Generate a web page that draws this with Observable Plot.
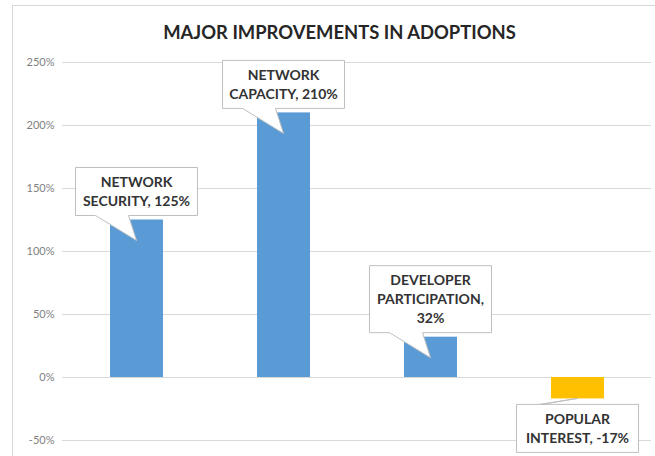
<!DOCTYPE html>
<html>
<head>
<meta charset="utf-8">
<script src="https://cdn.jsdelivr.net/npm/d3@7"></script>
<script src="https://cdn.jsdelivr.net/npm/@observablehq/plot@0.6"></script>
<style>
  html, body { margin: 0; padding: 0; background: #fff; }
  #wrap { position: relative; width: 655px; height: 456px; overflow: hidden; background: #fff; font-family: Lato, "Open Sans", sans-serif; }
  #frame { position: absolute; left: 12px; top: 5px; width: 700px; height: 500px; border: 1px solid #d9d9d9; box-sizing: border-box; }
  #title { position: absolute; left: 24px; width: 631px; top: 22px; text-align: center; font-size: 18.4px; line-height: 20px; font-weight: bold; color: #262626; }
  #chart { position: absolute; left: 0; top: 50px; }
</style>
</head>
<body>
<div id="wrap">
  <div id="frame"></div>
  <div id="title">MAJOR IMPROVEMENTS IN ADOPTIONS</div>
  <div id="chart"></div>
</div>
<script>
const categories = ["NETWORK SECURITY", "NETWORK CAPACITY", "DEVELOPER PARTICIPATION", "POPULAR INTEREST"];
const values = [125, 210, 32, -17];
const barColors = ["#5b9bd5", "#5b9bd5", "#5b9bd5", "#ffc000"];
const nameLines = [["NETWORK", "SECURITY"], ["NETWORK", "CAPACITY"], ["DEVELOPER", "PARTICIPATION"], ["POPULAR", "INTEREST"]];
const valueOnOwnLine = [false, false, true, false];
const yTicks = [-50, 0, 50, 100, 150, 200, 250];

const data = categories.map((c, i) => {
  const lines = nameLines[i].slice();
  const v = values[i] + "%";
  if (valueOnOwnLine[i]) { lines[lines.length - 1] += ","; lines.push(v); }
  else { lines[lines.length - 1] += ", " + v; }
  return {category: c, value: values[i], color: barColors[i], lines};
});

function callouts(index, scales, vals, dims, context) {
  const g = d3.create("svg:g");
  const bw = scales.x.bandwidth ? scales.x.bandwidth() : 0;
  const lh = 19, pad = 5, boxW = 122;
  for (const d of data) {
    const cx = scales.x(d.category) + bw / 2;
    const yEnd = scales.y(d.value);
    const h = d.lines.length * lh + pad * 2;
    let top, path;
    const left = cx - boxW / 2, right = cx + boxW / 2;
    if (d.value >= 0) {
      const bottom = yEnd - 4;
      top = bottom - h;
      const tipY = yEnd + 21;
      path = `M${left},${top}H${right}V${bottom}H${cx - 8}L${cx},${tipY}L${cx - 41},${bottom}H${left}Z`;
    } else {
      top = yEnd + 6;
      const bottom = top + h;
      path = `M${left},${top}H${cx - 36}L${cx},${yEnd}L${cx - 38},${top}H${right}V${bottom}H${left}Z`;
    }
    g.append("path").attr("d", path).attr("fill", "#fff").attr("stroke", "#bfbfbf").attr("stroke-width", 1);
    d.lines.forEach((t, j) => {
      g.append("text")
        .attr("x", cx)
        .attr("y", top + pad + lh * j + lh / 2)
        .attr("dy", "0.36em")
        .attr("text-anchor", "middle")
        .attr("font-size", 14)
        .attr("font-weight", "bold")
        .attr("fill", "#333")
        .text(t);
    });
  }
  return g.node();
}

const chart = Plot.plot({
  width: 655,
  height: 406,
  marginLeft: 62,
  marginRight: 4,
  marginTop: 12,
  marginBottom: 16,
  style: {fontFamily: "Lato, 'Open Sans', sans-serif", background: "transparent", color: "#7f7f7f"},
  x: {domain: categories, paddingInner: 0.64, paddingOuter: 0.32, axis: null},
  y: {domain: [-50, 250], axis: null},
  marks: [
    Plot.ruleY(yTicks, {stroke: "#d9d9d9", strokeWidth: 1}),
    Plot.axisY({ticks: yTicks, tickSize: 0, tickPadding: 8, tickFormat: d => d + "%", fontSize: 11, label: null}),
    Plot.barY(data, {x: "category", y: "value", fill: "color"}),
    callouts
  ]
});
document.getElementById("chart").appendChild(chart);
</script>
</body>
</html>
